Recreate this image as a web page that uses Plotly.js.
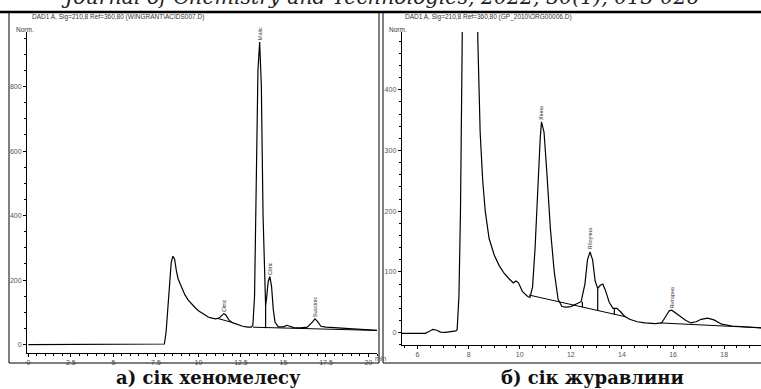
<!DOCTYPE html>
<html>
<head>
<meta charset="utf-8">
<script src="https://cdn.plot.ly/plotly-3.0.1.min.js"></script>
<style>html,body{margin:0;padding:0;background:#fff}#chart{width:761px;height:389px}</style>
</head>
<body>
<div id="chart"></div>
<script>
// ---- Panel a) chaenomeles juice ----
const leftTime = [0,7.9,8.0,8.1,8.2,8.3,8.4,8.5,8.6,8.7,8.8,8.9,9.0,9.2,9.4,9.6,9.8,10.0,10.2,10.4,10.6,10.8,11.0,11.2,11.4,11.5,11.6,11.8,12.0,12.3,12.6,12.9,13.1,13.2,13.3,13.4,13.5,13.6,13.7,13.8,13.9,13.95,14.0,14.1,14.2,14.3,14.4,14.5,14.7,15.0,15.2,15.4,15.6,16.0,16.4,16.7,16.85,17.0,17.2,17.5,18.0,18.5,19.0,19.3,19.6,20.0,20.5];
const leftSignal = [0,0,2,40,120,200,255,274,265,230,205,192,180,155,138,125,115,105,98,90,85,82,80,82,92,96,93,76,68,62,57,54,54,60,150,500,850,938,800,400,150,120,140,195,211,180,110,70,55,55,60,57,53,52,54,70,80,72,57,54,52,50,50,48,46,45,44];
const leftBaseTime = [[11.15,11.95],[13.2,20.5]];
const leftBaseSignal = [[81,69],[54,44]];
const leftDropTime = [13.95];
const leftDropLow = [51];
const leftDropHigh = [120];
const leftPeakTime = [11.5,13.6,14.2,16.85];
const leftPeakSignal = [96,938,211,80];
const leftPeakNames = ["Citric","Malic","Citric","Succinic"];
const leftXTicks = [0,2.5,5,7.5,10,12.5,15,17.5,20];
const leftYTicks = [0,200,400,600,800];

// ---- Panel b) cranberry juice ----
const rightTime = [5.38,6.0,6.3,6.45,6.6,6.75,6.9,7.1,7.3,7.5,7.55,7.62,7.68,7.74,7.8,8.05,8.3,8.36,8.45,8.55,8.65,8.8,9.0,9.2,9.4,9.6,9.75,9.85,9.95,10.1,10.3,10.4,10.5,10.6,10.7,10.8,10.85,10.95,11.05,11.2,11.35,11.5,11.65,11.8,12.0,12.2,12.4,12.55,12.65,12.75,12.85,12.95,13.05,13.15,13.25,13.35,13.5,13.65,13.8,13.95,14.1,14.3,14.6,14.9,15.3,15.55,15.7,15.85,15.95,16.1,16.3,16.5,16.7,16.9,17.1,17.35,17.6,17.9,18.3,18.6,19.0,19.44];
const rightSignal = [-1,-1,-1,2,5.5,4,1,0.5,1.5,3,5,60,200,450,700,900,700,480,330,250,200,155,128,110,97,88,82,85,82,68,60,58,75,140,240,320,347,330,270,170,100,55,43,42,43,47,51,80,120,133,120,85,73,78,80,70,50,40,40,34,27,22,18,16,15,16,26,36,37,32,26,20,16,18,22,24,21,14,11,10,9,8];
const rightBaseTime = [[10.36,14.16],[15.5,19.44]];
const rightBaseSignal = [[62,26],[16,8]];
const rightDropTime = [12.45,13.05,13.7];
const rightDropLow = [42,36,30];
const rightDropHigh = [51,73,40];
const rightPeakTime = [10.85,12.75,15.95];
const rightPeakSignal = [347,133,37];
const rightPeakNames = ["Хінна","Яблучна","Янтарна"];
const rightXTicks = [6,8,10,12,14,16,18];
const rightYTicks = [0,100,200,300,400];

const W = 761, H = 389;
const px = v => v / W;
const py = v => 1 - v / H;

const traces = [];
function addPanel(xa, ya, t, s, bt, bs, dt, dl, dh) {
  traces.push({x: t, y: s, xaxis: xa, yaxis: ya, type: 'scatter', mode: 'lines',
    line: {color: '#000', width: 1.2}, hoverinfo: 'skip', showlegend: false});
  for (let i = 0; i < bt.length; i++) {
    traces.push({x: bt[i], y: bs[i], xaxis: xa, yaxis: ya, type: 'scatter', mode: 'lines',
      line: {color: '#000', width: 1}, hoverinfo: 'skip', showlegend: false});
  }
  for (let i = 0; i < dt.length; i++) {
    traces.push({x: [dt[i], dt[i]], y: [dl[i], dh[i]], xaxis: xa, yaxis: ya, type: 'scatter', mode: 'lines',
      line: {color: '#000', width: 1.2}, hoverinfo: 'skip', showlegend: false});
  }
}
addPanel('x', 'y', leftTime, leftSignal, leftBaseTime, leftBaseSignal, leftDropTime, leftDropLow, leftDropHigh);
addPanel('x2', 'y2', rightTime, rightSignal, rightBaseTime, rightBaseSignal, rightDropTime, rightDropLow, rightDropHigh);

const tickFont = {family: 'Liberation Sans, Arial, sans-serif', size: 7, color: '#555'};
const axisBase = {showline: true, linecolor: '#000', linewidth: 1, showgrid: false, zeroline: false,
  ticks: 'outside', ticklen: 3, tickcolor: '#000', tickfont: tickFont, fixedrange: true};

const annotations = [];
function peakLabels(xa, ya, t, s, names) {
  for (let i = 0; i < t.length; i++) {
    annotations.push({xref: xa, yref: ya, x: t[i], y: s[i], text: names[i], showarrow: false,
      textangle: -90, xanchor: 'center', yanchor: 'bottom', yshift: 0,
      font: {family: 'Liberation Sans, Arial, sans-serif', size: 5.5, color: '#333'}});
  }
}
peakLabels('x', 'y', leftPeakTime, leftPeakSignal, leftPeakNames);
peakLabels('x2', 'y2', rightPeakTime, rightPeakSignal, rightPeakNames);

const smallFont = {family: 'Liberation Sans, Arial, sans-serif', size: 6.5, color: '#333'};
annotations.push(
  {xref: 'paper', yref: 'paper', x: px(30), y: py(17), text: 'DAD1 A, Sig=210,8 Ref=360,80 (WINGRANT\\ACIDS007.D)', showarrow: false, xanchor: 'left', yanchor: 'middle', font: smallFont},
  {xref: 'paper', yref: 'paper', x: px(403), y: py(17), text: 'DAD1 A, Sig=210,8 Ref=360,80 (GP_2010\\ORG00006.D)', showarrow: false, xanchor: 'left', yanchor: 'middle', font: smallFont},
  {xref: 'paper', yref: 'paper', x: px(14), y: py(30), text: 'Norm.', showarrow: false, xanchor: 'left', yanchor: 'middle', font: smallFont},
  {xref: 'paper', yref: 'paper', x: px(387), y: py(30), text: 'Norm.', showarrow: false, xanchor: 'left', yanchor: 'middle', font: smallFont},
  {xref: 'paper', yref: 'paper', x: px(373), y: py(358), text: 'min', showarrow: false, xanchor: 'left', yanchor: 'middle', font: tickFont},
  {xref: 'paper', yref: 'paper', x: px(380), y: py(11), text: 'Journal of Chemistry and Technologies, 2022, 30(1), 013-026', showarrow: false,
    xanchor: 'center', yanchor: 'bottom', font: {family: 'DejaVu Serif', size: 20.5, color: '#222', style: 'italic'}},
  {xref: 'paper', yref: 'paper', x: px(208), y: py(377.5), text: '<b>а) сік хеномелесу</b>', showarrow: false,
    xanchor: 'center', yanchor: 'middle', font: {family: 'DejaVu Serif', size: 18, color: '#111'}},
  {xref: 'paper', yref: 'paper', x: px(592), y: py(377.5), text: '<b>б) сік журавлини</b>', showarrow: false,
    xanchor: 'center', yanchor: 'middle', font: {family: 'DejaVu Serif', size: 18, color: '#111'}}
);

const shapes = [
  {type: 'line', xref: 'paper', yref: 'paper', x0: 0, x1: 1, y0: py(12), y1: py(12), line: {color: '#000', width: 2.5}},
  {type: 'rect', xref: 'paper', yref: 'paper', x0: px(9), x1: px(379), y0: py(363), y1: py(12), line: {color: '#000', width: 1}},
  {type: 'rect', xref: 'paper', yref: 'paper', x0: px(383), x1: px(765), y0: py(363), y1: py(12), line: {color: '#000', width: 1}}
];

const layout = {
  width: W, height: H, margin: {l: 0, r: 0, t: 0, b: 0}, paper_bgcolor: '#fff', plot_bgcolor: 'rgba(0,0,0,0)',
  showlegend: false,
  xaxis: Object.assign({}, axisBase, {domain: [px(27), px(377)], range: [-0.08, 20.5], tickvals: leftXTicks,
    minor: {dtick: 0.5, ticks: 'outside', ticklen: 2, tickcolor: '#000'}, anchor: 'y'}),
  yaxis: Object.assign({}, axisBase, {domain: [py(352.7), py(32)], range: [-25, 969], tickvals: leftYTicks,
    minor: {dtick: 50, ticks: 'outside', ticklen: 2, tickcolor: '#000'}, anchor: 'x'}),
  xaxis2: Object.assign({}, axisBase, {domain: [px(401.7), 1], range: [5.38, 19.44], tickvals: rightXTicks,
    minor: {dtick: 0.5, ticks: 'outside', ticklen: 2, tickcolor: '#000'}, anchor: 'y2'}),
  yaxis2: Object.assign({}, axisBase, {domain: [py(345), py(32)], range: [-20.3, 495], tickvals: rightYTicks,
    minor: {dtick: 20, ticks: 'outside', ticklen: 2, tickcolor: '#000'}, anchor: 'x2'}),
  annotations: annotations,
  shapes: shapes
};

Plotly.newPlot('chart', traces, layout, {staticPlot: true, displayModeBar: false});
</script>
</body>
</html>
